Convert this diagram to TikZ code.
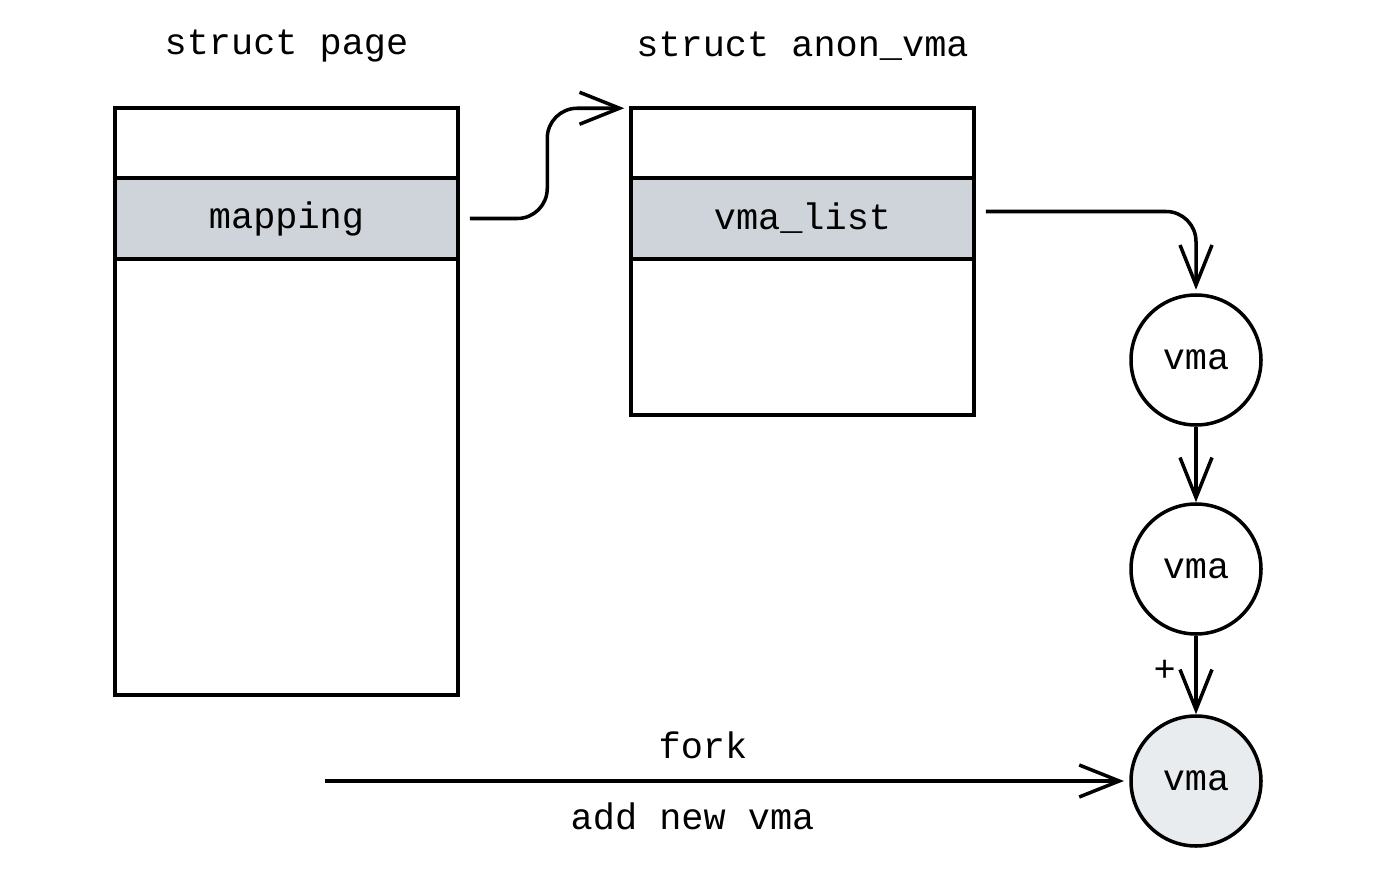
\documentclass[tikz,border=0pt]{standalone}
\usepackage{fontspec}
\setmainfont{Liberation Mono}
\usepackage{xcolor}
\usetikzlibrary{calc,arrows.meta}

\definecolor{fieldgray}{HTML}{CED4DA}
\definecolor{newgray}{HTML}{E9ECEF}

\tikzset{
    structbox/.style={draw, line width=2pt, minimum width=6.86cm, inner sep=0pt},
    field/.style={structbox, fill=fieldgray, minimum height=1.62cm},
    vmanode/.style={draw, circle, line width=2pt, minimum size=2.6cm, inner sep=0pt},
    arr/.style={line width=2pt, -{Straight Barb[length=0.8cm, width=0.64cm, line width=2pt]}}
}

\begin{document}
\begin{tikzpicture}[font=\fontsize{21}{25}\selectfont]
        \useasboundingbox (0,0) rectangle (27.9,-17.84);

        \node (pagetitle) at (5.73,-0.92) {struct page};
        \node (anontitle) at (16.05,-0.92) {struct anon\_vma};

        \node[structbox, minimum height=11.74cm] (page) at (5.73,-8.03) {};
        \node[field] (mapping) at (5.73,-4.37) {mapping};

        \node[structbox, minimum height=6.14cm] (anon) at (16.05,-5.23) {};
        \node[field] (vmalist) at (16.05,-4.37) {vma\_list};

        \node[vmanode] (v1) at (23.92,-7.2) {vma};
        \node[vmanode] (v2) at (23.92,-11.38) {vma};
        \node[vmanode, fill=newgray] (v3) at (23.92,-15.62) {vma};

        \coordinate (forkstart) at (6.5,-15.62);

        \draw[arr, rounded corners=0.6cm] ($(mapping.east)+(0.2,0)$) -- ++(1.55,0)
            |- ($(anon.north west)+(-0.1,-0.04)$);
        \draw[arr, rounded corners=0.6cm] ($(vmalist.east)+(0.2,0.14)$) -| ([yshift=2pt]v1.north);

        \draw[arr] (v1) -- (v2);
        \draw[arr] (v2) -- node[pos=0.45, left=0.25cm] {+} (v3);
        \draw[arr] (forkstart) -- node[pos=0.473, above=0.3cm] {fork}
            node[pos=0.46, below=0.28cm] {add new vma} ([xshift=-3pt]v3.west);
    \end{tikzpicture}
\end{document}
